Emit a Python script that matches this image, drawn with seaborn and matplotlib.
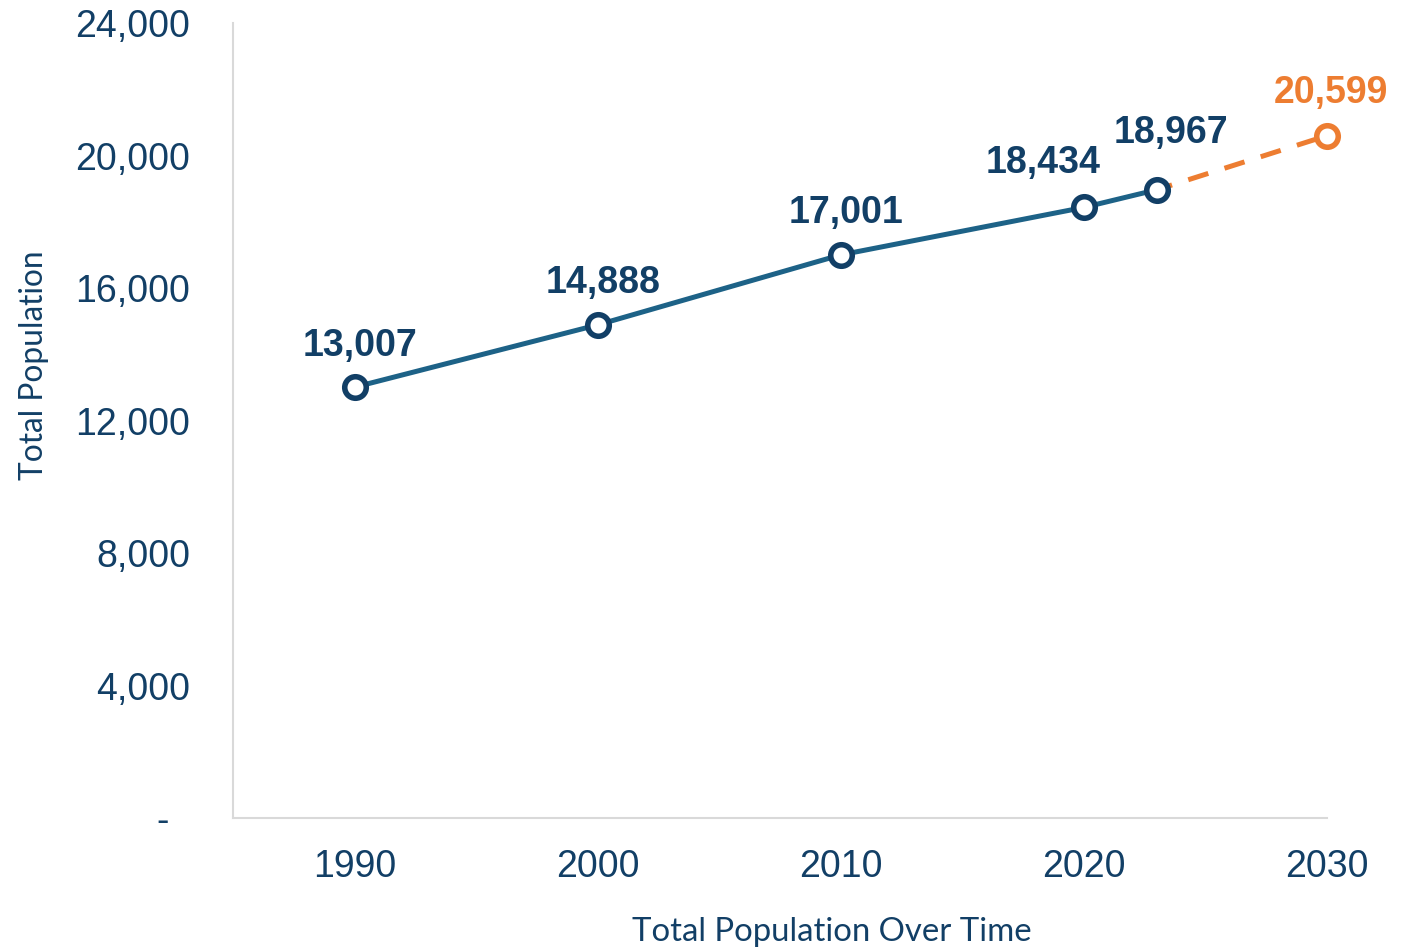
import matplotlib
matplotlib.use("Agg")
import matplotlib.pyplot as plt
import seaborn as sns
import pandas as pd
from matplotlib.ticker import FuncFormatter

years = [1990, 2000, 2010, 2020, 2023]
population = [13007, 14888, 17001, 18434, 18967]
proj_years = [2023, 2030]
proj_population = [18967, 20599]
x_ticks = [1990, 2000, 2010, 2020, 2030]
y_ticks = [0, 4000, 8000, 12000, 16000, 20000, 24000]

NAVY = "#123F66"
TEAL = "#1D6287"
ORANGE = "#ED7D31"
GRID = "#D9D9D9"

sns.set_theme(style="white")
plt.rcParams['font.family'] = ['Liberation Sans', 'DejaVu Sans']

fig = plt.figure(figsize=(14.15, 9.48), dpi=100)
ax = fig.add_axes([0.1647, 0.1371, 0.9378 - 0.1647, 0.9757 - 0.1371])

df = pd.DataFrame({"year": years, "pop": population})
dfp = pd.DataFrame({"year": proj_years, "pop": proj_population})

sns.lineplot(data=dfp, x="year", y="pop", ax=ax, color=ORANGE, lw=3.6,
             dashes=False, linestyle=(1, (4.2, 3.4)), zorder=2)
sns.scatterplot(x=[proj_years[-1]], y=[proj_population[-1]], ax=ax, s=240,
                marker="o", facecolor="white", edgecolor=ORANGE, linewidth=4,
                zorder=4, clip_on=False)
sns.lineplot(data=df, x="year", y="pop", ax=ax, color=TEAL, lw=3.6, zorder=3,
             marker="o", markersize=15.5, markerfacecolor="white",
             markeredgecolor=NAVY, markeredgewidth=4, clip_on=False)

# data labels
offsets = [(4, 30), (4, 30), (4, 30), (-29, 32), (10, 41), (3, 31)]
all_x = years + [proj_years[-1]]
all_y = population + [proj_population[-1]]
for i, (xv, yv) in enumerate(zip(all_x, all_y)):
    col = ORANGE if i == len(all_x) - 1 else NAVY
    ax.annotate(f"{yv:,}", (xv, yv), xytext=offsets[i], textcoords="offset points",
                ha="center", va="center", fontsize=27, fontweight="bold", color=col,
                annotation_clip=False)

ax.set_xlim(1985, 2030)
ax.set_ylim(0, 24000)
ax.set_xticks(x_ticks)
ax.set_yticks(y_ticks)
ax.yaxis.set_major_formatter(FuncFormatter(lambda v, p: "-  " if v == 0 else f"{int(v):,}"))
ax.tick_params(axis="both", length=0, labelsize=27, colors=NAVY)
ax.tick_params(axis="y", pad=31)
ax.tick_params(axis="x", pad=22)

for s in ["top", "right"]:
    ax.spines[s].set_visible(False)
for s in ["left", "bottom"]:
    ax.spines[s].set_color(GRID)
    ax.spines[s].set_linewidth(1.5)

ax.set_xlabel("Total Population Over Time", fontsize=23.7, color=NAVY,
              family=["Lato", "DejaVu Sans"], labelpad=22)
ax.xaxis.set_label_coords(0.5475, -0.125)
ax.set_ylabel("Total Population", fontsize=22.8, color=NAVY,
              family=["Lato", "DejaVu Sans"], labelpad=22)
ax.yaxis.set_label_coords(-0.168, 0.57)
ax.grid(False)

fig.savefig("out.png", dpi=100)
